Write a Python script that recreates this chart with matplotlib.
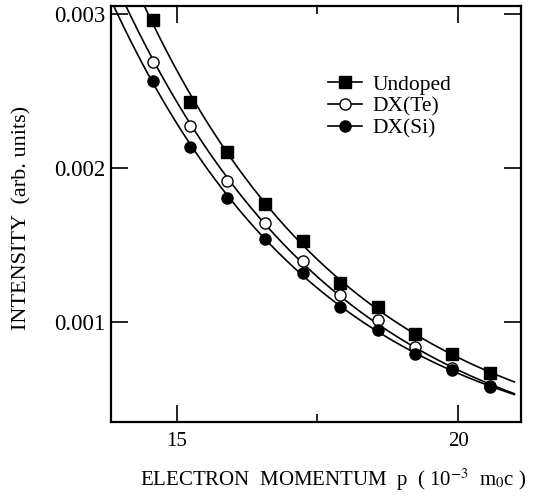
import numpy as np
import matplotlib
matplotlib.use("Agg")
import matplotlib.pyplot as plt

plt.rcParams['font.family'] = ['Liberation Serif', 'DejaVu Serif']
plt.rcParams['mathtext.fontset'] = 'stix'

# momentum p (10^-3 m0c)
p = [14.57, 15.24, 15.90, 16.57, 17.24, 17.90, 18.57, 19.24, 19.90, 20.57]

# intensity (arb. units)
undoped = [0.002961, 0.002429, 0.002102, 0.001768, 0.001526,
           0.001250, 0.001094, 0.000922, 0.000791, 0.000667]
dx_te = [0.002686, 0.002269, 0.001916, 0.001645, 0.001394,
         0.001172, 0.001013, 0.000838, 0.000699, 0.000584]
dx_si = [0.002565, 0.002138, 0.001803, 0.001539, 0.001315,
         0.001100, 0.000948, 0.000792, 0.000688, 0.000578]

labels = ["Undoped", "DX(Te)", "DX(Si)"]
series = [undoped, dx_te, dx_si]
markers = ["s", "o", "o"]
faces = ["black", "white", "black"]


def fit_curve(x, y, xs):
    # y = A exp(-b x) + C, C found by scanning
    x = np.asarray(x)
    y = np.asarray(y)
    best = None
    for c in np.linspace(0, 0.95 * y.min(), 200):
        k = np.polyfit(x, np.log(y - c), 1)
        r = np.sum((np.exp(np.polyval(k, x)) + c - y) ** 2)
        if best is None or r < best[0]:
            best = (r, k, c)
    _, k, c = best
    return np.exp(np.polyval(k, xs)) + c


fig = plt.figure(figsize=(5.35, 4.97), dpi=100)
ax = fig.add_axes([0.2075, 0.151, 0.7665, 0.837])

xs = np.linspace(13.8, 21.0, 300)
for ys, m, fc, lab in zip(series, markers, faces, labels):
    ax.plot(xs, fit_curve(p, ys, xs), color="black", lw=1.2, zorder=2)
    ax.plot(p, ys, linestyle="none", marker=m, ms=8, mfc=fc, mec="black",
            mew=1.0, zorder=3)
    # legend handle
    ax.plot([], [], color="black", lw=1.2, marker=m, ms=8, mfc=fc, mec="black",
            mew=1.0, label=lab)

ax.set_xlim(13.83, 21.12)
ax.set_ylim(0.000351, 0.00305)
ax.set_xticks([15, 20])
ax.set_xticks([17.5], minor=True)
ax.set_yticks([0.001, 0.002, 0.003])
ax.set_yticklabels(["0.001", "0.002", "0.003"])

ax.tick_params(which="both", direction="in", top=True, right=True, width=1.2)
ax.tick_params(axis="x", labelsize=15, pad=7)
ax.tick_params(axis="y", labelsize=16.5, pad=4)
ax.tick_params(which="major", length=12)
ax.tick_params(which="minor", length=6)
for s in ax.spines.values():
    s.set_linewidth(1.6)

ax.set_xlabel("ELECTRON  MOMENTUM  p  ( 10$^{-3}$  m$_0$c )", fontsize=15)
ax.set_ylabel("INTENSITY  (arb. units)", fontsize=16)
ax.xaxis.set_label_coords(0.541, -0.108)
ax.yaxis.set_label_coords(-0.193, 0.49)

ax.legend(loc="upper left", bbox_to_anchor=(0.529, 0.835), frameon=False,
          fontsize=15.5, handlelength=1.6, handletextpad=0.45,
          labelspacing=0.08, borderpad=0, borderaxespad=0)

fig.savefig("out.png", dpi=100)
